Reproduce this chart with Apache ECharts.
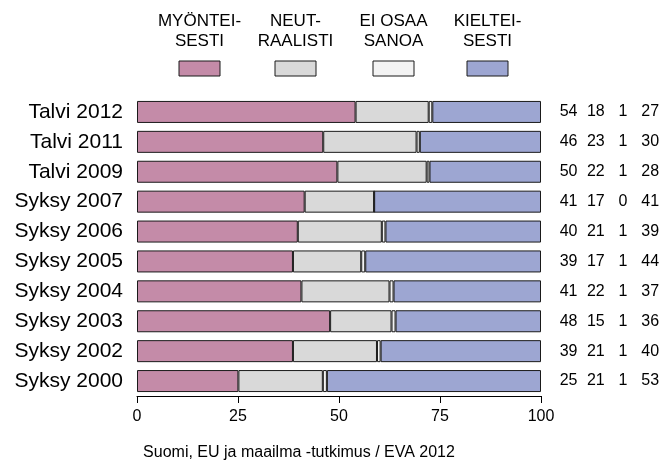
<!DOCTYPE html>
<html>
<head>
<meta charset="utf-8">
<script src="https://cdn.jsdelivr.net/npm/echarts@6/dist/echarts.min.js"></script>
<style>
html,body{margin:0;padding:0;background:#fff;}
#chart{width:667px;height:461px;}
</style>
</head>
<body>
<div id="chart"></div>
<script>
// Categories, top to bottom
const categories = ['Talvi 2012','Talvi 2011','Talvi 2009','Syksy 2007','Syksy 2006','Syksy 2005','Syksy 2004','Syksy 2003','Syksy 2002','Syksy 2000'];

// Series names (legend)
const seriesNames = ['MYÖNTEI-\nSESTI','NEUT-\nRAALISTI','EI OSAA\nSANOA','KIELTEI-\nSESTI'];

// Bar values (percent, as drawn)
const myonteisesti = [54.1, 46.1, 49.6, 41.5, 39.8, 38.6, 40.7, 47.8, 38.6, 25.1];
const neutraalisti = [18.1, 23.1, 22.1, 17.2, 20.8, 16.9, 21.8, 15.2, 20.8, 20.9];
const eiOsaaSanoa  = [0.9, 0.8, 0.7, 0, 0.9, 1.0, 1.0, 1.0, 0.9, 1.0];
const kielteisesti = [26.9, 30.0, 27.6, 41.3, 38.5, 43.5, 36.5, 36.0, 39.7, 53.0];

// Printed (rounded) numbers at right
const lblMyon = [54, 46, 50, 41, 40, 39, 41, 48, 39, 25];
const lblNeut = [18, 23, 22, 17, 21, 17, 22, 15, 21, 21];
const lblEi   = [1, 1, 1, 0, 1, 1, 1, 1, 1, 1];
const lblKiel = [27, 30, 28, 41, 39, 44, 37, 36, 40, 53];

// X axis ticks
const xTicks = [0, 25, 50, 75, 100];

const colors = ['#C48BA8', '#D9D9D9', '#F3F3F3', '#9DA6D2'];
const FONT = 'Liberation Sans, Arial, Helvetica, sans-serif';
const border = '#1a1a1a';

const chart = echarts.init(document.getElementById('chart'), null, {renderer: 'canvas'});

const valueArrays = [myonteisesti, neutraalisti, eiOsaaSanoa, kielteisesti];
const series = valueArrays.map((arr, i) => ({
  name: seriesNames[i],
  type: 'bar',
  stack: 'total',
  barWidth: 22,
  data: arr,
  itemStyle: { color: colors[i], borderColor: border, borderWidth: 1 },
  emphasis: { disabled: true },
  animation: false
}));

// Legend drawn as graphic (text above each swatch)
const legendCenters = [199.5, 295.5, 393.5, 487.5];
const legendGraphics = [];
seriesNames.forEach((n, i) => {
  legendGraphics.push({
    type: 'text',
    x: legendCenters[i], y: 31,
    style: { text: n, font: '17px ' + FONT, fill: '#000', align: 'center', verticalAlign: 'middle', lineHeight: 20 }
  });
  legendGraphics.push({
    type: 'rect',
    shape: { x: legendCenters[i] - 20.5, y: 61, width: 41, height: 15 },
    style: { fill: colors[i], stroke: border, lineWidth: 1 }
  });
});
legendGraphics.push({
  type: 'text',
  x: 299, y: 452.5,
  style: { text: 'Suomi, EU ja maailma -tutkimus / EVA 2012', font: '16px ' + FONT, fill: '#000', align: 'center', verticalAlign: 'middle' }
});

const richCol = { width: 27.2, align: 'center', fontSize: 16, fontFamily: FONT, color: '#000' };

const option = {
  backgroundColor: '#fff',
  animation: false,
  grid: { left: 137, right: 126, top: 97, bottom: 65, containLabel: false, outerBoundsMode: 'none' },
  xAxis: {
    type: 'value',
    min: 0, max: 100, interval: 25,
    axisLine: { show: true, lineStyle: { color: '#000', width: 1 } },
    axisTick: { show: true, length: 7, lineStyle: { color: '#000', width: 1 } },
    splitLine: { show: false },
    axisLabel: { show: true, fontSize: 16, fontFamily: FONT, color: '#000', margin: 13,
      formatter: v => (xTicks.indexOf(v) >= 0 ? String(v) : '') }
  },
  yAxis: [
    {
      type: 'category',
      data: categories,
      inverse: true,
      axisLine: { show: false },
      axisTick: { show: false },
      splitLine: { show: false },
      axisLabel: { fontSize: 21, fontFamily: FONT, color: '#000', margin: 14 }
    },
    {
      type: 'category',
      data: categories,
      inverse: true,
      position: 'right',
      axisLine: { show: false },
      axisTick: { show: false },
      splitLine: { show: false },
      axisLabel: {
        margin: 14,
        align: 'left',
        formatter: (v, idx) => `{a|${lblMyon[idx]}}{b|${lblNeut[idx]}}{c|${lblEi[idx]}}{d|${lblKiel[idx]}}`,
        rich: { a: richCol, b: richCol, c: richCol, d: richCol }
      }
    }
  ],
  series: series,
  graphic: legendGraphics
};

chart.setOption(option);
</script>
</body>
</html>
